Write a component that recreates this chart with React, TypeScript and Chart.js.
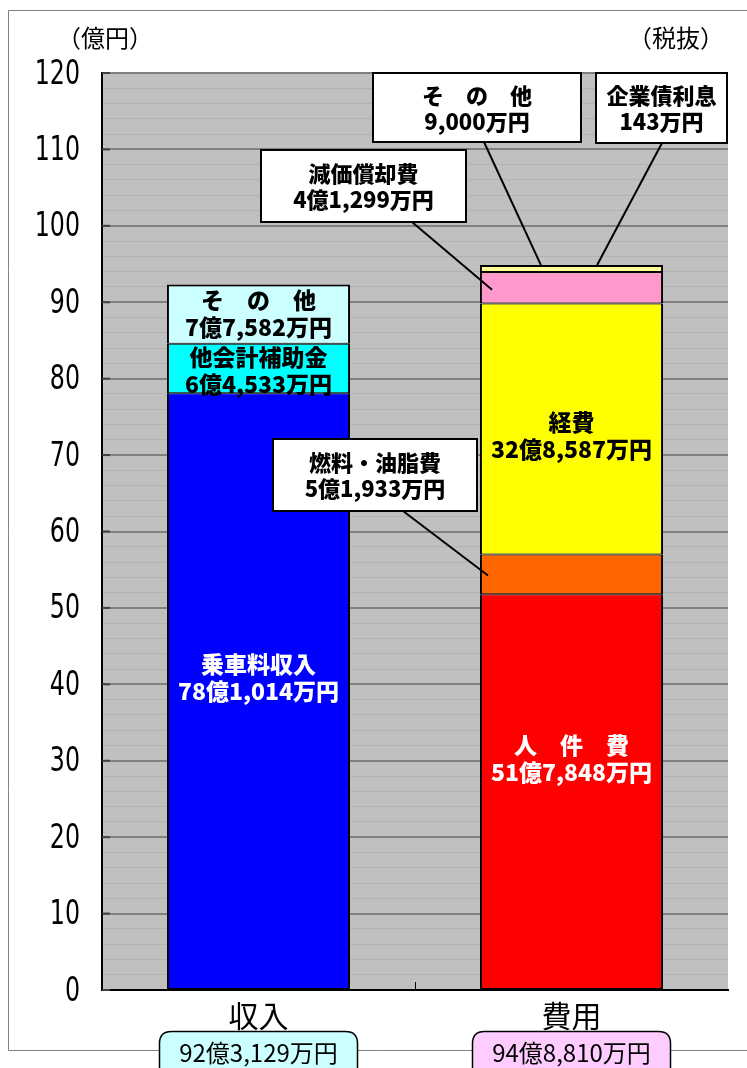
import React, { useEffect, useRef } from 'react';
import { Chart, registerables } from 'chart.js';

Chart.register(...registerables);

// ---- data ----
const categories = ['収入', '費用'];
const incomeItems = ['乗車料収入', '他会計補助金', 'その他'];
const incomeValues = [78.1014, 6.4533, 7.7582];
const expenseItems = ['人件費', '燃料・油脂費', '経費', '減価償却費', 'その他', '企業債利息'];
const expenseValues = [51.7848, 5.1933, 32.8587, 4.1299, 0.9, 0.0143];
const incomeDisplay = ['乗車料収入', '他会計補助金', 'そ　の　他'];
const expenseDisplay = ['人　件　費', '燃料・油脂費', '経費', '減価償却費', 'そ　の　他', '企業債利息'];
const yMin = 0;
const yMax = 120;
const yMajorStep = 10;
const yMinorStep = 2;
const unitLabel = '（億円）';
const noteLabel = '（税抜）';

// ---- styles ----
const incomeColors = ['#0000ff', '#00ffff', '#ccffff'];
const expenseColors = ['#ff0000', '#ff6600', '#ffff00', '#ff99cc', '#ffff99', '#ffffcc'];
const totalBoxColors = ['#ccffff', '#ffccff'];
const CJK = '"Noto Sans CJK JP", "Noto Sans CJK SC", sans-serif';
const NARROW = '"DejaVu Sans", sans-serif';

function formatOkuMan(v: number): string {
  const totalMan = Math.round(v * 10000);
  const oku = Math.floor(totalMan / 10000);
  const man = totalMan % 10000;
  const manStr = man.toLocaleString('en-US');
  return (oku > 0 ? oku + '億' : '') + (man > 0 ? manStr + '万円' : '円');
}

const insideLabels = [
  { cat: 0, idx: 0, color: '#ffffff', dy: -14 },
  { cat: 0, idx: 1, color: '#000000', dy: 2 },
  { cat: 0, idx: 2, color: '#000000', dy: -1 },
  { cat: 1, idx: 0, color: '#ffffff', dy: -33 },
  { cat: 1, idx: 2, color: '#000000', dy: 6 },
];

const callouts = [
  { cat: 1, idx: 4, box: { x: 373, y: 73, w: 208, h: 69 }, start: [484, 142], fx: 0.333, anchor: 'top', ady: 0 },
  { cat: 1, idx: 5, box: { x: 596, y: 73, w: 131, h: 70 }, start: [662, 143], fx: 0.64, anchor: 'top', ady: 0 },
  { cat: 1, idx: 3, box: { x: 261, y: 150, w: 205, h: 72 }, start: [412, 222], fx: 0.066, anchor: 'mid', ady: 2 },
  { cat: 1, idx: 1, box: { x: 273, y: 439, w: 204, h: 72 }, start: [403, 511], fx: 0.044, anchor: 'mid', ady: 1 },
];

function buildDatasets() {
  const ds: any[] = [];
  incomeValues.forEach((v, i) => {
    ds.push({
      label: incomeItems[i],
      data: [v, null],
      backgroundColor: incomeColors[i],
      borderColor: '#000',
      borderWidth: { left: 2, right: 2, top: i === incomeValues.length - 1 ? 2 : 1, bottom: 1 },
      borderSkipped: false,
      stack: 's',
    });
  });
  expenseValues.forEach((v, i) => {
    ds.push({
      label: expenseItems[i],
      data: [null, v],
      backgroundColor: expenseColors[i],
      borderColor: '#000',
      borderWidth: { left: 2, right: 2, top: i >= expenseValues.length - 2 ? 2 : 1, bottom: 1 },
      borderSkipped: false,
      stack: 's',
    });
  });
  return ds;
}

function datasetIndex(cat: number, idx: number) {
  return cat === 0 ? idx : incomeValues.length + idx;
}

const decorPlugin = {
  id: 'decor',
  beforeDraw(chart: any) {
    const { ctx, chartArea } = chart;
    ctx.save();
    ctx.fillStyle = '#c0c0c0';
    ctx.fillRect(chartArea.left, chartArea.top, chartArea.right - chartArea.left, chartArea.bottom - chartArea.top);
    ctx.strokeStyle = '#808080';
    ctx.lineWidth = 1;
    ctx.beginPath();
    ctx.moveTo(747, 10.5);
    ctx.lineTo(8.5, 10.5);
    ctx.lineTo(8.5, 1050.5);
    ctx.lineTo(747, 1050.5);
    ctx.stroke();
    ctx.fillStyle = '#000';
    ctx.font = `24px ${CJK}`;
    ctx.textBaseline = 'middle';
    ctx.textAlign = 'left';
    ctx.fillText(unitLabel, 57, 38);
    ctx.textAlign = 'right';
    ctx.fillText(noteLabel, 724, 38);
    ctx.restore();
  },
  afterDatasetsDraw(chart: any) {
    const { ctx } = chart;
    ctx.save();
    ctx.textAlign = 'center';
    ctx.textBaseline = 'middle';
    ctx.font = `900 23px ${CJK}`;
    insideLabels.forEach((l) => {
      const di = datasetIndex(l.cat, l.idx);
      const el = chart.getDatasetMeta(di).data[l.cat];
      const names = l.cat === 0 ? incomeDisplay : expenseDisplay;
      const vals = l.cat === 0 ? incomeValues : expenseValues;
      const cy = (el.y + el.base) / 2 + l.dy;
      ctx.fillStyle = l.color;
      ctx.fillText(names[l.idx], el.x, cy - 13);
      ctx.fillText(formatOkuMan(vals[l.idx]), el.x, cy + 14);
    });
    ctx.restore();
  },
  afterDraw(chart: any) {
    const { ctx, scales } = chart;
    ctx.save();
    // y tick labels (condensed), from the scale's own ticks
    ctx.fillStyle = '#000';
    ctx.font = `33px ${NARROW}`;
    ctx.textAlign = 'right';
    ctx.textBaseline = 'middle';
    const sx = 0.72;
    scales.y.ticks.forEach((t: any) => {
      if (t.value % yMajorStep !== 0) return;
      const y = scales.y.getPixelForValue(t.value);
      ctx.save();
      ctx.translate(scales.x.left - 22, y + 2);
      ctx.scale(sx, 1);
      ctx.fillText(String(t.value), 0, 0);
      ctx.restore();
    });

    ctx.strokeStyle = '#404040';
    ctx.lineWidth = 2;
    for (let v = yMin; v <= yMax; v += yMajorStep) {
      const y = scales.y.getPixelForValue(v);
      ctx.beginPath();
      ctx.moveTo(scales.x.left, y);
      ctx.lineTo(scales.x.left + 8, y);
      ctx.stroke();
    }
    const midX = (scales.x.getPixelForValue(0) + scales.x.getPixelForValue(1)) / 2;
    ctx.strokeStyle = '#000';
    ctx.lineWidth = 1;
    ctx.beginPath();
    ctx.moveTo(Math.round(midX) + 0.5, scales.y.bottom);
    ctx.lineTo(Math.round(midX) + 0.5, scales.y.bottom - 8);
    ctx.stroke();

    callouts.forEach((c) => {
      const di = datasetIndex(c.cat, c.idx);
      const el = chart.getDatasetMeta(di).data[c.cat];
      const left = el.x - el.width / 2;
      const ex = left + c.fx * el.width;
      const ey = (c.anchor === 'top' ? el.y : (el.y + el.base) / 2) + c.ady;
      ctx.strokeStyle = '#000';
      ctx.lineWidth = 2;
      ctx.beginPath();
      ctx.moveTo(c.start[0], c.start[1]);
      ctx.lineTo(ex, ey);
      ctx.stroke();
      ctx.fillStyle = '#fff';
      ctx.fillRect(c.box.x, c.box.y, c.box.w, c.box.h);
      ctx.strokeRect(c.box.x, c.box.y, c.box.w, c.box.h);
      const names = c.cat === 0 ? incomeDisplay : expenseDisplay;
      const vals = c.cat === 0 ? incomeValues : expenseValues;
      const cx = c.box.x + c.box.w / 2;
      const cy = c.box.y + c.box.h / 2;
      ctx.fillStyle = '#000';
      ctx.font = `900 22px ${CJK}`;
      ctx.textAlign = 'center';
      ctx.textBaseline = 'middle';
      ctx.fillText(names[c.idx], cx, cy - 12);
      ctx.fillText(formatOkuMan(vals[c.idx]), cx, cy + 14);
    });

    const totals = [
      incomeValues.reduce((a, b) => a + b, 0),
      expenseValues.reduce((a, b) => a + b, 0),
    ];
    totals.forEach((t, i) => {
      const cx = scales.x.getPixelForValue(i);
      const w = 198;
      const x = cx - w / 2;
      const y = 1031.5;
      const h = 50;
      const r = 12;
      ctx.beginPath();
      ctx.moveTo(x + r, y);
      ctx.lineTo(x + w - r, y);
      ctx.quadraticCurveTo(x + w, y, x + w, y + r);
      ctx.lineTo(x + w, y + h - r);
      ctx.quadraticCurveTo(x + w, y + h, x + w - r, y + h);
      ctx.lineTo(x + r, y + h);
      ctx.quadraticCurveTo(x, y + h, x, y + h - r);
      ctx.lineTo(x, y + r);
      ctx.quadraticCurveTo(x, y, x + r, y);
      ctx.closePath();
      ctx.fillStyle = totalBoxColors[i];
      ctx.fill();
      ctx.strokeStyle = '#000';
      ctx.lineWidth = 1.5;
      ctx.stroke();
      ctx.fillStyle = '#000';
      ctx.font = `24px ${CJK}`;
      ctx.textAlign = 'center';
      ctx.textBaseline = 'middle';
      ctx.fillText(formatOkuMan(t), cx, 1053);
    });
    ctx.restore();
  },
};

export default function App() {
  const ref = useRef<HTMLCanvasElement | null>(null);
  useEffect(() => {
    if (!ref.current) return;
    const chart = new Chart(ref.current, {
      type: 'bar',
      data: { labels: categories, datasets: buildDatasets() },
      options: {
        responsive: false,
        animation: false,
        devicePixelRatio: 1,
        layout: { padding: { top: 73, right: 19, left: 0, bottom: 0 } },
        datasets: { bar: { barPercentage: 0.585, categoryPercentage: 1.0 } },
        plugins: { legend: { display: false }, tooltip: { enabled: false }, title: { display: false } },
        scales: {
          x: {
            stacked: true,
            grid: { display: false, drawTicks: false },
            border: { display: true, color: '#000', width: 2 },
            ticks: { font: { family: CJK, size: 30 }, color: '#000', padding: 8 },
            afterFit: (s: any) => { s.height = 78; },
          },
          y: {
            stacked: true,
            min: yMin,
            max: yMax,
            ticks: {
              stepSize: yMinorStep,
              autoSkip: false,
              display: false,
            },
            grid: {
              drawTicks: false,
              color: (c: any) => (c.tick && c.tick.value % yMajorStep === 0 ? '#808080' : '#b2b2b2'),
              lineWidth: (c: any) => (c.tick && c.tick.value % yMajorStep === 0 ? 2 : 1),
            },
            border: { display: true, color: '#000', width: 2 },
            afterFit: (s: any) => { s.width = 102; },
          },
        },
      },
      plugins: [decorPlugin],
    } as any);
    return () => chart.destroy();
  }, []);
  return (
    <div style={{ position: 'absolute', left: 0, top: 0, width: 747, height: 1068 }}>
      <canvas ref={ref} width={747} height={1068} />
    </div>
  );
}
